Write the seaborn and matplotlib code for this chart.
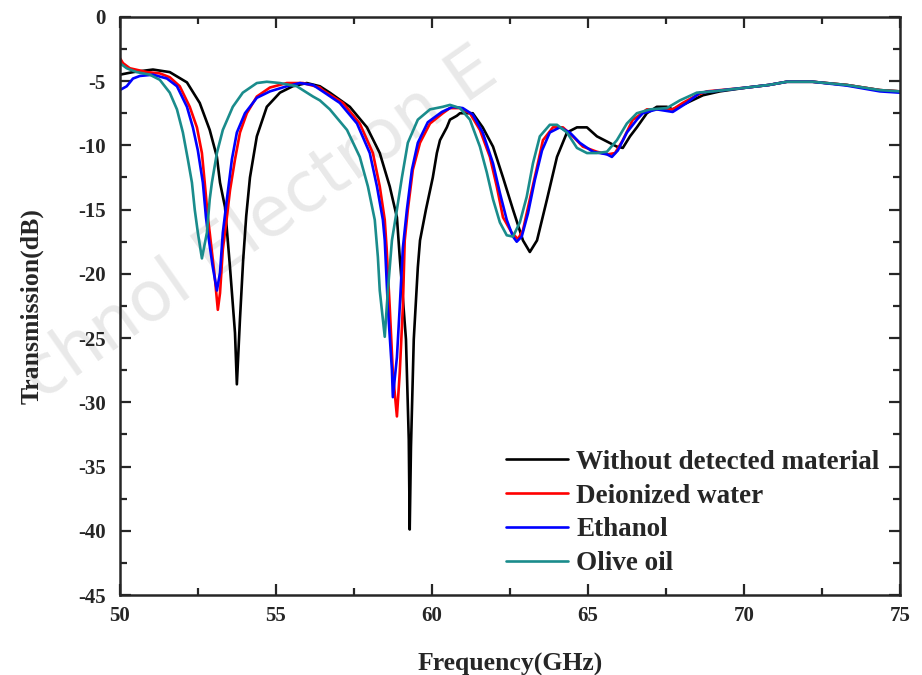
#transmission spectra of the sensor loaded with different liquids
import pandas as pd
import seaborn as sns
import matplotlib.pyplot as plt
from matplotlib.ticker import MultipleLocator

#values
f_without = [50.0, 50.42, 51.06, 51.6, 52.15, 52.56, 52.88, 53.11, 53.21, 53.37, 53.53, 53.69, 53.75,
             53.85, 53.95, 54.05, 54.17, 54.39, 54.71, 55.13, 55.54, 55.99, 56.41, 56.73, 57.37, 57.92,
             58.33, 58.65, 58.88, 58.97, 59.17, 59.26, 59.29, 59.33, 59.42, 59.55, 59.62, 59.81, 60.03,
             60.16, 60.26, 60.48, 60.58, 60.8, 60.9, 61.31, 61.63, 61.96, 62.28, 62.6, 62.92, 63.14,
             63.37, 63.69, 64.01, 64.33, 64.65, 64.97, 65.29, 65.61, 65.93, 66.12, 66.35, 66.57, 66.89,
             67.21, 67.53, 67.72, 68.17, 68.69, 69.23, 70.1, 70.8, 71.38, 72.2, 73.3, 74.36, 75.0]
t_without = [-4.5, -4.3, -4.1, -4.3, -5.1, -6.7, -8.8, -10.9, -12.9, -14.8, -19.5, -24.6, -28.6,
             -23.5, -19.0, -15.5, -12.5, -9.3, -7.0, -5.9, -5.4, -5.15, -5.4, -5.9, -7.0, -8.6,
             -10.6, -13.2, -15.6, -18.7, -25.1, -32.9, -39.9, -33.5, -25.1, -19.5, -17.4, -15.0, -12.5,
             -10.6, -9.6, -8.6, -8.0, -7.7, -7.5, -7.5, -8.6, -10.1, -12.5, -15.0, -17.4, -18.3,
             -17.4, -14.2, -10.9, -9.0, -8.6, -8.6, -9.3, -9.7, -10.1, -10.2, -9.3, -8.6, -7.5,
             -7.0, -7.0, -7.2, -6.7, -6.1, -5.8, -5.5, -5.3, -5.05, -5.05, -5.3, -5.7, -5.8]

f_water = [50.0, 50.1, 50.32, 50.87, 51.28, 51.6, 51.92, 52.24, 52.47, 52.63, 52.72, 52.82, 52.88,
           53.04, 53.14, 53.21, 53.3, 53.43, 53.53, 53.69, 53.85, 54.07, 54.39, 54.81, 55.35, 55.87,
           56.41, 56.5, 57.15, 57.69, 58.11, 58.33, 58.49, 58.55, 58.65, 58.75, 58.88, 58.97, 59.07,
           59.13, 59.23, 59.39, 59.62, 59.94, 60.35, 60.58, 60.9, 61.22, 61.54, 61.86, 62.08, 62.28,
           62.56, 62.76, 62.92, 63.14, 63.37, 63.56, 63.88, 64.2, 64.52, 64.84, 65.29, 65.64, 65.87,
           66.12, 66.44, 66.57, 66.89, 67.72, 68.04, 68.49, 68.81, 70.1, 70.8, 71.38, 72.2, 73.3,
           74.36, 75.0]
t_water = [-3.2, -3.6, -4.0, -4.3, -4.4, -4.7, -5.4, -7.0, -8.6, -10.6, -12.9, -15.6, -16.8,
           -20.2, -22.8, -21.5, -18.1, -15.6, -13.5, -11.1, -9.0, -7.5, -6.2, -5.5, -5.15, -5.15,
           -5.5, -5.7, -6.7, -8.3, -10.6, -13.2, -15.8, -18.0, -22.6, -27.7, -31.1, -27.7, -22.6,
           -17.4, -15.0, -11.9, -9.8, -8.3, -7.5, -7.1, -7.1, -7.5, -8.8, -10.9, -13.2, -15.6,
           -16.8, -17.3, -16.6, -14.2, -11.7, -9.6, -8.6, -8.6, -9.3, -10.1, -10.5, -10.7, -10.6,
           -9.6, -8.0, -7.8, -7.2, -7.2, -6.7, -6.1, -5.8, -5.5, -5.3, -5.05, -5.05, -5.3,
           -5.7, -5.8]

f_ethanol = [50.0, 50.22, 50.42, 50.64, 51.06, 51.51, 51.83, 52.15, 52.34, 52.5, 52.66, 52.76, 52.82,
             52.98, 53.11, 53.21, 53.3, 53.43, 53.59, 53.75, 54.01, 54.39, 54.81, 55.35, 55.77, 56.19,
             56.5, 57.05, 57.6, 58.01, 58.24, 58.43, 58.49, 58.59, 58.72, 58.75, 58.88, 58.97, 59.07,
             59.2, 59.36, 59.55, 59.87, 60.32, 60.67, 60.99, 61.31, 61.63, 61.96, 62.18, 62.4, 62.6,
             62.72, 62.88, 63.08, 63.3, 63.53, 63.78, 64.1, 64.42, 64.74, 65.16, 65.61, 65.77, 65.96,
             66.25, 66.57, 66.76, 67.21, 67.72, 68.17, 68.59, 70.1, 70.8, 71.38, 72.2, 73.3, 74.36, 75.0]
t_ethanol = [-5.7, -5.4, -4.8, -4.6, -4.5, -4.8, -5.4, -7.0, -8.6, -10.4, -12.9, -15.6, -16.8,
             -19.5, -21.3, -19.9, -16.8, -14.2, -11.1, -9.0, -7.5, -6.3, -5.8, -5.4, -5.15, -5.3,
             -5.8, -6.7, -8.3, -10.6, -13.2, -15.8, -17.4, -22.6, -27.5, -29.6, -26.5, -22.6, -18.0,
             -15.0, -11.9, -9.8, -8.2, -7.4, -7.0, -7.1, -7.6, -9.0, -11.4, -13.7, -15.8, -17.1,
             -17.5, -17.1, -15.3, -12.7, -10.4, -9.0, -8.6, -9.0, -9.8, -10.5, -10.7, -10.9, -10.4,
             -9.0, -8.0, -7.5, -7.2, -7.4, -6.7, -5.9, -5.5, -5.3, -5.05, -5.05, -5.35, -5.8, -5.9]

f_olive = [50.0, 50.22, 50.54, 50.96, 51.28, 51.6, 51.83, 52.02, 52.18, 52.31, 52.4, 52.5, 52.63,
           52.79, 52.88, 52.95, 53.11, 53.3, 53.62, 53.94, 54.39, 54.71, 55.13, 55.67, 56.19, 56.41,
           56.73, 57.28, 57.69, 57.95, 58.17, 58.27, 58.33, 58.49, 58.59, 58.72, 58.88, 59.04, 59.23,
           59.55, 59.94, 60.35, 60.58, 60.9, 61.22, 61.54, 61.76, 61.96, 62.18, 62.4, 62.6, 62.82,
           63.04, 63.24, 63.46, 63.78, 64.01, 64.33, 64.65, 64.97, 65.29, 65.61, 65.93, 66.25, 66.57,
           66.99, 67.53, 67.95, 68.49, 69.0, 70.1, 70.8, 71.38, 72.2, 73.3, 74.36, 75.0]
t_olive = [-3.6, -4.0, -4.3, -4.5, -4.9, -5.9, -7.2, -9.0, -11.1, -12.9, -15.0, -16.8, -18.8,
           -16.8, -14.2, -12.9, -10.6, -8.8, -7.0, -5.9, -5.15, -5.05, -5.15, -5.4, -6.2, -6.5,
           -7.2, -8.8, -10.9, -13.2, -15.8, -18.7, -21.3, -24.9, -21.3, -17.4, -15.0, -12.5, -9.8,
           -8.0, -7.2, -7.0, -6.85, -7.1, -8.0, -10.1, -12.1, -14.2, -16.0, -17.0, -17.1, -16.0,
           -14.0, -11.4, -9.3, -8.4, -8.4, -9.0, -10.2, -10.6, -10.6, -10.5, -9.6, -8.3, -7.5,
           -7.2, -7.1, -6.5, -5.9, -5.8, -5.5, -5.3, -5.05, -5.05, -5.3, -5.7, -5.8]

labels = ["Without detected material", "Deionized water", "Ethanol", "Olive oil"]
colors = ["black", "#ff0000", "#0000ff", "#1a8c8c"]

frames = []
for lab, f, t in zip(labels, [f_without, f_water, f_ethanol, f_olive], [t_without, t_water, t_ethanol, t_olive]):
	frames.append(pd.DataFrame({"Frequency": f, "Transmission": t, "Sample": lab}))
df = pd.concat(frames, ignore_index=True)

sns.set_style("ticks")
plt.rcParams['font.family'] = ['Liberation Serif', 'DejaVu Serif']
plt.rcParams['font.weight'] = 'bold'
plt.rcParams['axes.unicode_minus'] = False

fig = plt.figure(figsize=(9.22, 6.75), dpi=100)
ax = fig.add_axes([0.130, 0.1185, 0.846, 0.8565])

#faint watermark behind the curves (only the part visible in the original)
ax.text(0.012, 0.41, "chnol Electron E", transform=fig.transFigure, rotation=35, fontsize=50,
	color="#e9e9e9", fontweight="normal", family="DejaVu Sans", zorder=0.5, clip_on=False)

sns.lineplot(data=df, x="Frequency", y="Transmission", hue="Sample", hue_order=labels,
	palette=colors, estimator=None, sort=False, linewidth=1.9, ax=ax, zorder=2)

ax.set_xlim(50, 75)
ax.set_ylim(-45, 0)
ax.xaxis.set_major_locator(MultipleLocator(5))
ax.xaxis.set_minor_locator(MultipleLocator(2.5))
ax.yaxis.set_major_locator(MultipleLocator(5))
ax.yaxis.set_minor_locator(MultipleLocator(2.5))
ax.tick_params(which="both", direction="in", top=True, right=True, width=1.6, labelsize=15)
ax.tick_params(which="major", length=8)
ax.tick_params(which="minor", length=5)
ax.tick_params(axis="x", pad=8)
ax.tick_params(axis="y", pad=10)
for sp in ax.spines.values():
	sp.set_linewidth(1.8)
for lbl in ax.get_xticklabels() + ax.get_yticklabels():
	lbl.set_fontweight("bold")

ax.set_xlabel("Frequency(GHz)", fontsize=18.5, fontweight="bold", labelpad=19)
ax.set_ylabel("Transmission(dB)", fontsize=18.5, fontweight="bold", labelpad=25)

ax.legend(frameon=False, loc="lower right", bbox_to_anchor=(1.005, -0.01), handlelength=2.3,
	handletextpad=0.3, labelspacing=0.33, prop={"weight": "bold", "size": 19.5})

plt.savefig("out.png", dpi=100)
